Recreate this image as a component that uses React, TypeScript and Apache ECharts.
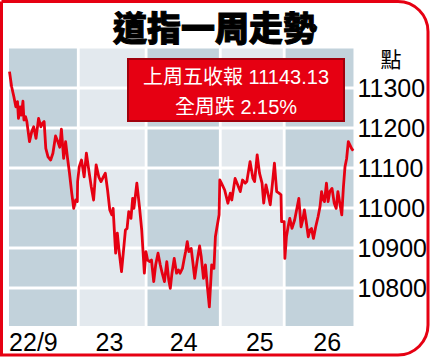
import React, { useEffect, useRef } from 'react';
import * as echarts from 'echarts';

const title = '道指一周走勢';
const unitLabel = '點';
const noteLines = ['上周五收報 11143.13', '全周跌 2.15%'];

const dayLabels = ['22/9', '23', '24', '25', '26'];
const dayLabelPos = [25, 103, 179, 257, 326];
const dayBounds = [0, 71, 140.5, 216.5, 282, 353];
const dayColors = ['#c2d2db', '#e3e9ee', '#c2d2db', '#e3e9ee', '#c2d2db'];
const yTicks = [10800, 10900, 11000, 11100, 11200, 11300];
const yMin = 10705;
const yMax = 11398.75;

// session time (left→right) vs index level
const trace: [number, number][] = [
  [0.5, 11341], [2.7, 11303], [5, 11278], [7, 11253], [8.7, 11266], [9.7, 11224], [11.3, 11253],
  [12.7, 11232], [14.3, 11267], [15.3, 11220], [17, 11228], [18.3, 11216], [21, 11166], [23.3, 11191],
  [25.3, 11203], [27.7, 11174], [30.3, 11224], [32.7, 11203], [34.3, 11212], [36, 11216], [37.7, 11149],
  [40, 11128], [42.7, 11120], [45, 11137], [47.7, 11180], [50, 11166], [52, 11152], [53.7, 11197],
  [56, 11124], [58, 11166], [60, 11124], [62, 11087], [64.3, 11037], [66.3, 10999], [68.3, 11020],
  [70, 11016], [70.3, 11066], [72, 11103], [74.3, 11120], [77, 11078], [79.3, 11137], [82, 11091],
  [84.3, 11053], [86.7, 11020], [89.3, 11108], [92, 11078], [94.3, 11066], [96.7, 11078], [98.7, 11087],
  [101, 11045], [103.3, 10995], [105.3, 10983], [106.7, 10999], [108.3, 10928], [109.3, 10887],
  [111, 10937], [112.7, 10895], [115.3, 10841], [117.7, 10903], [119.3, 10945], [121, 10949],
  [122.7, 10991], [125, 10974], [126.7, 11024], [128, 10999], [131, 11062], [133.7, 11003], [136, 10945],
  [138.7, 10837], [140.3, 10891], [142, 10870], [144.3, 10866], [146, 10870], [148.3, 10816],
  [150.3, 10858], [152.7, 10887], [155, 10858], [157, 10837], [159.3, 10816], [161.7, 10866],
  [163.7, 10820], [165.3, 10799], [167, 10837], [169.3, 10874], [171.7, 10837], [173.7, 10845],
  [175.3, 10837], [177.7, 10849], [179.3, 10870], [181, 10891], [182.7, 10916], [184.3, 10891],
  [186.7, 10899], [188.7, 10858], [190.3, 10824], [192.7, 10866], [195.3, 10905], [197, 10878],
  [199.3, 10824], [201.3, 10858], [203.3, 10803], [205.3, 10753], [207.7, 10858], [210, 10849],
  [211.5, 10928], [213.3, 10955], [215.3, 10983], [216, 11070], [217.7, 11062], [221, 11045],
  [224.3, 11012], [226.7, 11037], [228.3, 11020], [231.7, 11074], [234.3, 11058], [237, 11041],
  [239.3, 11070], [242, 11062], [243.7, 11066], [247, 11116], [250, 11074], [251.7, 11066],
  [254.3, 11133], [256.7, 11087], [259.3, 11062], [261, 11012], [263.3, 11058], [265.3, 11037],
  [267.7, 11008], [270, 11062], [272, 11112], [274.3, 11041], [276.7, 11037], [278.7, 11033],
  [279.3, 10966], [282, 10966], [282.7, 10874], [284.3, 10928], [286, 10953], [287.7, 10974],
  [290, 10949], [292.7, 10970], [295, 10999], [297, 11024], [299.3, 10953], [301, 10970],
  [302.7, 10995], [304.3, 10970], [306.7, 10928], [308.3, 10945], [310, 10949], [312, 10924],
  [314.3, 10953], [316.7, 10978], [318.7, 11003], [320.3, 11041], [322, 11020], [323.3, 11016],
  [325.3, 11062], [327, 11016], [328.7, 11041], [331, 11049], [333.3, 11012], [335.3, 10999],
  [337, 11041], [338.7, 11016], [341, 10983], [342.7, 11053], [344.3, 11103], [346, 11124],
  [347.7, 11166], [349.3, 11158], [351, 11149], [352.7, 11143.13],
];

const RED = '#e60012';
const NARROW = '"Liberation Sans Narrow", "Arial Narrow", "Liberation Sans", sans-serif';
const CJK = '"Noto Sans CJK TC", "Noto Sans CJK SC", sans-serif';

export default function App() {
  const ref = useRef<HTMLDivElement>(null);
  useEffect(() => {
    if (!ref.current) return;
    const chart = echarts.init(ref.current, null, { renderer: 'svg' });
    const columns = dayColors.map((_, i) => [dayBounds[i], dayBounds[i + 1], i]);
    const gap = 1.4;
    const renderColumn = (params: any, api: any) => {
      const idx = api.value(2);
      const tl = api.coord([api.value(0), yMax]);
      const br = api.coord([api.value(1), yMin]);
      const left = tl[0] + (idx > 0 ? gap : 0);
      const right = br[0] - (idx < dayColors.length - 1 ? gap : 0);
      // split each day column into cells separated by the white grid gaps
      const edges = [tl[1], ...yTicks.slice().reverse().map((v) => api.coord([api.value(0), v])[1]), br[1]];
      const children: any[] = [];
      for (let k = 0; k < edges.length - 1; k++) {
        const top = edges[k] + (k > 0 ? gap : 0);
        const bottom = edges[k + 1] - (k < edges.length - 2 ? gap : 0);
        children.push({
          type: 'rect',
          shape: { x: left, y: top, width: right - left, height: bottom - top },
          style: { fill: dayColors[idx] },
        });
      }
      return { type: 'group', children };
    };
    chart.setOption({
      animation: false,
      backgroundColor: '#fff',
      title: {
        text: title,
        left: 'center',
        top: 4,
        textStyle: {
          fontSize: 34,
          fontWeight: 900,
          fontFamily: CJK,
          color: '#000',
          textBorderColor: '#000',
          textBorderWidth: 1,
        },
      },
      grid: { left: 9, top: 48.5, width: 353, height: 277.5 },
      xAxis: {
        type: 'value',
        min: 0,
        max: 353,
        axisLine: { show: false },
        axisTick: { show: false },
        splitLine: { show: false },
        axisLabel: {
          customValues: dayLabelPos,
          formatter: (v: number) => {
            const i = dayLabelPos.indexOf(v);
            return i >= 0 ? dayLabels[i] : '';
          },
          color: '#000',
          fontSize: 25,
          fontFamily: NARROW,
          margin: 3,
        },
      },
      yAxis: {
        type: 'value',
        position: 'right',
        min: yMin,
        max: yMax,
        axisLine: { show: false },
        axisTick: { show: false },
        splitLine: { show: false },
        axisLabel: {
          customValues: yTicks,
          formatter: (v: number) => String(v),
          color: '#000',
          fontSize: 25,
          fontFamily: NARROW,
          margin: 4,
        },
      },
      series: [
        {
          type: 'custom',
          z: 1,
          silent: true,
          renderItem: renderColumn,
          encode: { x: [0, 1] },
          data: columns,
        },
        {
          type: 'line',
          data: trace,
          z: 10,
          showSymbol: false,
          symbol: 'none',
          lineStyle: { color: RED, width: 2.8, join: 'round' },
        },
      ],
      graphic: [
        {
          type: 'rect',
          z: 100,
          shape: { x: 1.5, y: 1.5, width: 426.5, height: 353.5, r: [0, 30, 30, 0] },
          style: { fill: 'none', stroke: RED, lineWidth: 3 },
        },
        {
          type: 'rect',
          z: 100,
          shape: { x: 128, y: 59, width: 216, height: 62 },
          style: { fill: RED, stroke: '#a0000c', lineWidth: 2 },
        },
        {
          type: 'text',
          z: 101,
          x: 236,
          y: 76.5,
          style: {
            text: noteLines[0],
            fill: '#fff',
            fontSize: 20,
            fontFamily: '"Liberation Sans", "Noto Sans CJK TC", sans-serif',
            align: 'center',
            verticalAlign: 'middle',
          },
        },
        {
          type: 'text',
          z: 101,
          x: 236,
          y: 106.5,
          style: {
            text: noteLines[1],
            fill: '#fff',
            fontSize: 20,
            fontFamily: '"Liberation Sans", "Noto Sans CJK TC", sans-serif',
            align: 'center',
            verticalAlign: 'middle',
          },
        },
        {
          type: 'text',
          z: 101,
          x: 391,
          y: 58,
          style: {
            text: unitLabel,
            fill: '#000',
            fontSize: 21,
            fontFamily: CJK,
            align: 'center',
            verticalAlign: 'middle',
          },
        },
      ],
    });
    return () => chart.dispose();
  }, []);
  return (
    <div
      ref={ref}
      style={{ position: 'fixed', left: 0, top: 0, width: 430, height: 358, background: '#fff' }}
    />
  );
}
